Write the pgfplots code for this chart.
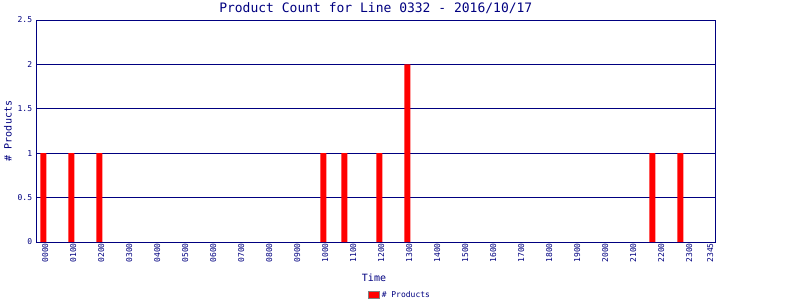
\documentclass[border=0pt]{standalone}
\usepackage{fontspec}
\setmainfont{DejaVu Sans Mono}
\setmonofont{DejaVu Sans Mono}
\usepackage{pgfplots}
\pgfplotsset{compat=1.18}
\definecolor{navy}{HTML}{000080}
\definecolor{barred}{HTML}{FF0000}
\begin{document}
\begin{tikzpicture}
\begin{axis}[
  at={(36.3pt,58pt)}, anchor=south west,
  scale only axis, width=679pt, height=222pt,
  xmin=-1, xmax=96, ymin=0, ymax=2.5,
  ybar, bar width=6pt,
  axis line style={navy, line width=0.9pt},
  ytick={0,0.5,1,1.5,2,2.5},
  yticklabels={0,0.5,1,1.5,2,2.5},
  ymajorgrids, grid style={navy, line width=0.9pt},
  major tick length=0pt,
  xtick={0,4,8,12,16,20,24,28,32,36,40,44,48,52,56,60,64,68,72,76,80,84,88,92,95},
  xticklabels={0000,0100,0200,0300,0400,0500,0600,0700,0800,0900,1000,1100,1200,1300,1400,1500,1600,1700,1800,1900,2000,2100,2200,2300,2345},
  xticklabel style={rotate=90, anchor=east, font=\fontsize{8}{8}\selectfont, text=navy, inner sep=1pt, yshift=-2pt},
  yticklabel style={font=\fontsize{8}{8}\selectfont, text=navy, inner sep=1pt, xshift=-3pt},
  legend style={at={(0.5356,-0.24)}, anchor=center, draw=none, fill=none, font=\fontsize{8}{8}\selectfont, text=navy, inner sep=0pt},
  legend image code/.code={\draw[draw=gray, fill=barred, line width=0.8pt] (0pt,-3.5pt) rectangle (11pt,3.5pt);},
]
\addplot[fill=barred, draw=none] coordinates {(0,1) (4,1) (8,1) (40,1) (43,1) (48,1) (52,2) (87,1) (91,1)};
\addlegendentry{\# Products}
\end{axis}
\node[text=navy, font=\fontsize{13}{13}\selectfont] at (375.8pt,292pt) {Product Count for Line 0332 - 2016/10/17};
\node[text=navy, font=\fontsize{10}{10}\selectfont, rotate=90] at (8pt,169pt) {\# Products};
\node[text=navy, font=\fontsize{10}{10}\selectfont] at (374pt,22.5pt) {Time};
\pgfresetboundingbox
\path (0,0) rectangle (800pt,300pt);
\end{tikzpicture}
\end{document}
